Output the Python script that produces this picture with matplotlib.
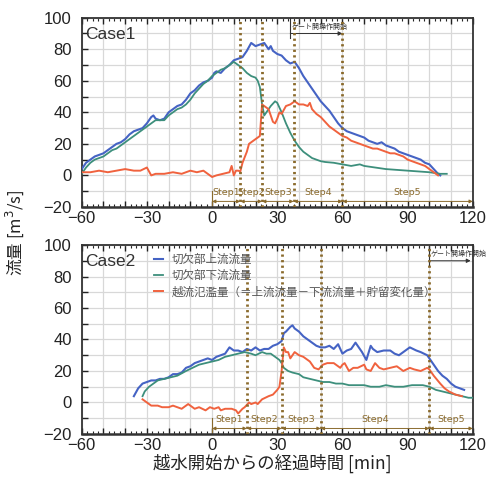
import numpy as np
import matplotlib
matplotlib.use("Agg")
import matplotlib.pyplot as plt
from matplotlib.ticker import MultipleLocator, FuncFormatter

plt.rcParams['font.family'] = ['Liberation Sans', 'Noto Sans CJK JP', 'DejaVu Sans']

# ---------------- data ----------------
# Case1
c1_up_t = [-60,-58,-56,-54,-52,-50,-48,-46,-44,-42,-40,-38,-36,-34,-32,-30,-28,-27,-26,-24,-22,-20,-18,-16,-14,-12,-10,-8,-6,-4,-2,0,1,2,4,6,8,10,12,14,16,18,20,22,24,26,27,28,30,32,34,36,38,40,42,44,46,48,50,52,54,56,58,60,62,64,66,68,70,72,74,76,78,80,82,84,86,88,90,92,94,96,98,100,102,104,105]
c1_up_v = [4,8,10,12,13,14,16,18,20,21,23,26,28,29,30,33,37,38,36,35,36,40,42,44,45,48,52,54,57,59,60,62,65,66,65,68,70,73,74,75,79,84,82,83,84,80,82,79,77,76,73,71,72,68,63,59,55,51,47,44,41,37,33,30,28,27,26,25,24,22,21,20,21,19,18,17,15,14,13,12,11,10,8,7,4,1,0]

c1_dn_t = [-60,-58,-56,-54,-52,-50,-48,-46,-44,-42,-40,-38,-36,-34,-32,-30,-28,-26,-24,-22,-20,-18,-16,-14,-12,-10,-8,-6,-4,-2,0,2,4,6,8,10,12,14,16,18,20,21,22,23,24,25,27,29,30,32,34,36,38,40,42,44,46,48,50,52,56,60,64,66,68,70,75,80,85,90,95,100,105,108]
c1_dn_v = [1,5,8,10,11,12,14,16,17,19,21,23,25,27,29,31,33,35,35,35,38,40,42,43,45,48,52,55,58,60,63,65,67,68,70,72,70,68,65,63,62,60,56,45,38,40,44,47,46,40,33,27,22,18,15,13,11,10,9,8.5,8,7,6,6.5,7,6,5,4,3.5,3,2.5,2,1,1]

c1_ov_t = [-60,-56,-52,-48,-44,-40,-36,-33,-30,-28,-26,-22,-18,-14,-10,-7,-4,-2,0,2,5,8,9,10,11,12,13,14,16,17,18,19,20,21,22,23,24,26,27,28,29,30,31,32,34,36,38,40,42,44,45,46,48,50,52,54,56,58,60,62,64,66,68,70,72,74,76,78,80,82,84,86,88,90,92,94,96,98,100,102,104]
c1_ov_v = [2,2,3,2,3,4,3,3,5,0,1,1,2,1,3,2,3,1,-1,0,1,2,6,0,3,3,2.5,8,15,20,21,22,23,24,25,45,44,42,38,34,33,36,40,39,44,45,47,45,45,44,46,42,39,37,34,31,29,27,25,24,22,21,20,19,18,17,17,16,15,14,14,13,12,10,9,8,7,6,4,2,0]

# Case2
c2_up_t = [-36,-34,-32,-30,-28,-26,-24,-22,-20,-18,-16,-14,-12,-10,-8,-6,-4,-2,0,2,4,6,8,10,12,14,16,18,20,22,24,26,28,30,32,33,34,36,37,38,40,42,44,46,48,50,52,54,56,58,60,62,64,66,67,69,71,73,74,76,79,82,84,86,88,91,94,96,99,100,102,104,106,108,110,112,114,116]
c2_up_v = [4,9,12,13,14,14,15,15,16,18,18,19,22,23,25,26,27,28,27,29,30,31,35,33,33,32,34,33,35,33,34,34,36,37,39,44,45,48,49,47,45,42,40,38,36,35,35,36,34,37,31,33,34,38,36,32,27,36,34,32,33,33,31,30,32,35,33,32,30,28,24,20,17,15,12,10,9,8]

c2_dn_t = [-32,-31,-29,-27,-25,-22,-19,-16,-12,-9,-6,-3,0,3,6,9,12,15,18,20,23,25,27,29,31,32,33,35,37,40,42,45,48,51,54,57,60,63,67,70,73,77,80,84,88,92,95,97,100,103,106,109,112,115,118,120]
c2_dn_v = [4,7,10,12,14,15,16,17,20,22,24,25,26,27,29,30,31,32,31,30,32,31,31,29,27,25,22,20,19,18,16,15,14,13,13,12,12,11,11,11,10,10,11,10,10,11,11,11,10,8,7,6,5,4,3,3]

c2_ov_t = [-32,-30,-28,-25,-23,-20,-18,-16,-14,-12,-11,-9,-8,-6,-3,-1,1,3,4,6,9,11,12,14,15,17,18,20,21,23,26,28,30,31,32,33,34,35,36,38,40,42,45,47,49,51,53,56,59,60,61,63,65,67,70,71,73,75,77,79,82,85,88,91,93,96,99,100,102,105,107,109,112,115]
c2_ov_v = [2,0,-2,-2,-3,-3,-2,-3,-4,-2,-1,-3,-4,-3,-5,-3,-4,-3,-5,-4,-4,-5,-7,-4,-3,0,-1,0,-1,2,4,5,8,10,20,35,32,32,28,32,30,29,26,22,21,24,25,25,22,24,25,20,22,22,24,21,20,25,22,21,22,23,20,22,21,20,22,21,17,12,9,7,5,4]

c1_steps = [0, 13, 23, 37.5, 60, 120]
c2_steps = [0, 16, 32, 50, 100, 120]
step_names = ['Step1', 'Step2', 'Step3', 'Step4', 'Step5']
c1_gate = [36, 60]
c2_gate = [100, 119]
gate_text = 'ゲート開操作開始'

legend_labels = ['切欠部上流流量', '切欠部下流流量', '越流氾濫量（＝上流流量－下流流量＋貯留変化量）']
xlabel = '越水開始からの経過時間 [min]'
ylabel = '流量 [m$^3$/s]'

# ---------------- style ----------------
C_UP = '#4563c4'
C_DN = '#3d8f7c'
C_OV = '#f0623e'
C_STEP = '#8a6a2c'
C_GRID = '#d8d8d8'

fig = plt.figure(figsize=(4.91, 4.79), dpi=100)
ax1 = fig.add_axes([0.1664, 0.568, 0.7966, 0.395])
ax2 = fig.add_axes([0.1664, 0.094, 0.7966, 0.3945])


def style(ax):
    ax.set_xlim(-60, 120)
    ax.set_ylim(-20, 100)
    ax.xaxis.set_major_locator(MultipleLocator(10))
    ax.yaxis.set_major_locator(MultipleLocator(10))
    ax.xaxis.set_minor_locator(MultipleLocator(2.5))
    ax.xaxis.set_major_formatter(FuncFormatter(lambda v, p: f'{int(round(v))}'.replace('-', '\u2212') if round(v) % 30 == 0 else ''))
    ax.yaxis.set_major_formatter(FuncFormatter(lambda v, p: f'{int(round(v))}'.replace('-', '\u2212') if round(v) % 20 == 0 else ''))
    ax.grid(True, which='major', color=C_GRID, lw=0.9)
    ax.set_axisbelow(True)
    ax.tick_params(which='major', direction='in', length=4, width=1, labelsize=12, top=True, right=False, colors='#222222')
    ax.tick_params(axis='y', pad=7)
    ax.tick_params(axis='x', pad=3)
    ax.tick_params(which='minor', direction='in', length=2.5, width=0.8, top=True, colors='#222222')
    for s in ax.spines.values():
        s.set_color('#333333')
        s.set_linewidth(1.3)
    ax.spines['bottom'].set_linewidth(1.8)


def steps(ax, bounds, gate):
    for b in bounds[1:-1]:
        ax.axvline(b, color=C_STEP, lw=2.0, ls=(0, (0.8, 1.2)), zorder=4)
    ax.plot([bounds[0], bounds[0]], [-20, -10], color=C_STEP, lw=0.8)
    for i, name in enumerate(step_names):
        a, b = bounds[i], bounds[i + 1]
        ax.annotate('', xy=(b, -16.5), xytext=(a, -16.5),
                    arrowprops=dict(arrowstyle='<|-|>', color=C_STEP, lw=0.7,
                                    mutation_scale=5, shrinkA=0, shrinkB=0))
        ax.text((a + b) / 2, -13.8, name, color=C_STEP, fontsize=6.8,
                ha='center', va='bottom', family=['Liberation Sans Narrow', 'DejaVu Sans'])
    g0, g1 = gate
    ax.plot([g0, g0], [87, 100], color='#333333', lw=0.8)
    ax.annotate('', xy=(g1, 90), xytext=(g0, 90),
                arrowprops=dict(arrowstyle='-|>', color='#333333', lw=0.7,
                                mutation_scale=6, shrinkA=0, shrinkB=0))
    ax.text(g0 + 0.8, 91.5, gate_text, fontsize=5, color='#333333',
            ha='left', va='bottom', family=['Noto Sans CJK JP'])


style(ax1)
style(ax2)

ax1.plot(c1_up_t, c1_up_v, color=C_UP, lw=1.5, zorder=3)
ax1.plot(c1_dn_t, c1_dn_v, color=C_DN, lw=1.3, zorder=3)
ax1.plot(c1_ov_t, c1_ov_v, color=C_OV, lw=1.4, zorder=3)
ax2.plot(c2_up_t, c2_up_v, color=C_UP, lw=1.5, zorder=3, label=legend_labels[0])
ax2.plot(c2_dn_t, c2_dn_v, color=C_DN, lw=1.3, zorder=3, label=legend_labels[1])
ax2.plot(c2_ov_t, c2_ov_v, color=C_OV, lw=1.4, zorder=3, label=legend_labels[2])

steps(ax1, c1_steps, c1_gate)
steps(ax2, c2_steps, c2_gate)

ax1.text(-58.5, 89.5, 'Case1', fontsize=12.5, color='#333333', ha='left', va='center')
ax2.text(-58.5, 89.5, 'Case2', fontsize=12.5, color='#333333', ha='left', va='center')

leg = ax2.legend(loc='upper left', bbox_to_anchor=(0.185, 0.96), frameon=False,
                 fontsize=8.3, handlelength=0.8, handletextpad=0.7, labelspacing=0.3,
                 borderaxespad=0, borderpad=0)
for t in leg.get_texts():
    t.set_color('#555555')
    t.set_family(['Noto Sans CJK JP'])

fig.text(0.5 * (0.1664 + 0.963) - 0.01, 0.012, xlabel, ha='center', va='bottom', fontsize=12.5,
         color='#222222', family=['Noto Sans CJK JP', 'DejaVu Sans'])
fig.text(0.03, 0.515, ylabel, rotation=90, ha='center', va='center', fontsize=12,
         color='#222222', family=['Noto Sans CJK JP', 'DejaVu Sans'])

fig.savefig('out.png', dpi=100, facecolor='white')
